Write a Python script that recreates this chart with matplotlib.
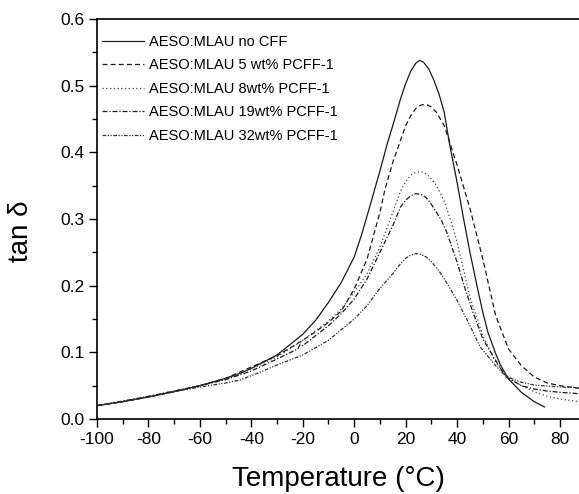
import numpy as np
import matplotlib
matplotlib.use("Agg")
import matplotlib.pyplot as plt
from matplotlib.ticker import MultipleLocator, FormatStrFormatter

plt.rcParams['font.family'] = ['Liberation Sans', 'DejaVu Sans']
plt.rcParams['axes.unicode_minus'] = False

# tan delta vs temperature
t_none = [-100, -90, -80, -70, -60, -50, -44, -40, -30, -20, -15, -10, -5, 0, 3, 6, 10,
          13, 15, 18, 20, 22, 24, 25.5, 27, 29, 31, 33, 35, 37.2, 40, 42.4, 45, 48, 50,
          52, 55, 57, 60, 65, 70, 74]
v_none = [0.020, 0.026, 0.033, 0.041, 0.050, 0.061, 0.069, 0.076, 0.096, 0.127, 0.148,
          0.175, 0.205, 0.243, 0.278, 0.318, 0.372, 0.415, 0.440, 0.480, 0.503, 0.522,
          0.534, 0.538, 0.535, 0.525, 0.508, 0.487, 0.460, 0.410, 0.355, 0.303, 0.250,
          0.195, 0.160, 0.130, 0.098, 0.080, 0.060, 0.040, 0.026, 0.018]

t_5 = [-100, -90, -80, -70, -60, -50, -40, -30, -20, -15, -10, -5, 0, 5, 10, 12, 15,
       20, 22, 24, 26, 28, 30, 32, 35, 40, 45, 50, 55, 60, 65, 70, 75, 80, 87.4]
v_5 = [0.020, 0.026, 0.033, 0.041, 0.050, 0.061, 0.078, 0.095, 0.118, 0.131, 0.145,
       0.162, 0.195, 0.240, 0.310, 0.345, 0.385, 0.440, 0.455, 0.466, 0.471, 0.472,
       0.468, 0.460, 0.440, 0.381, 0.316, 0.240, 0.155, 0.105, 0.080, 0.063, 0.054,
       0.050, 0.046]

t_8 = [-100, -90, -80, -70, -60, -50, -40, -30, -20, -10, -5, 0, 5, 10, 15, 18, 20,
       22, 24, 26, 28, 30, 32, 35, 38, 40, 45, 50, 55, 60, 65, 70, 75, 80, 87.4]
v_8 = [0.020, 0.026, 0.034, 0.042, 0.050, 0.060, 0.075, 0.093, 0.118, 0.147, 0.165,
       0.190, 0.218, 0.258, 0.310, 0.342, 0.356, 0.366, 0.370, 0.371, 0.368, 0.360,
       0.350, 0.327, 0.292, 0.265, 0.183, 0.125, 0.085, 0.062, 0.050, 0.041, 0.034,
       0.030, 0.026]

t_19 = [-100, -90, -80, -70, -60, -50, -40, -30, -22, -21, -20, -10, -5, 0, 5, 10, 15,
        18, 20, 22, 24, 26, 28, 30, 32, 34, 36, 40, 43, 46, 50, 55, 59, 65, 70, 75, 80,
        87.4]
v_19 = [0.020, 0.027, 0.034, 0.042, 0.050, 0.059, 0.072, 0.090, 0.105, 0.112, 0.110,
        0.140, 0.158, 0.180, 0.210, 0.250, 0.290, 0.318, 0.328, 0.335, 0.338, 0.337,
        0.332, 0.322, 0.310, 0.297, 0.280, 0.235, 0.197, 0.162, 0.120, 0.088, 0.063,
        0.050, 0.045, 0.042, 0.040, 0.038]

t_32 = [-100, -90, -80, -70, -60, -50, -44, -38, -30, -20, -10, 0, 5, 10, 15, 18, 20,
        22, 24, 26, 28, 30, 33, 36, 40, 45, 49, 55, 59, 65, 70, 80, 87.4]
v_32 = [0.020, 0.026, 0.033, 0.041, 0.048, 0.054, 0.059, 0.068, 0.081, 0.096, 0.118,
        0.150, 0.170, 0.196, 0.218, 0.233, 0.241, 0.246, 0.248, 0.247, 0.243, 0.236,
        0.222, 0.204, 0.178, 0.140, 0.108, 0.080, 0.064, 0.055, 0.051, 0.048, 0.047]

labels = ["AESO:MLAU no CFF", "AESO:MLAU 5 wt% PCFF-1", "AESO:MLAU 8wt% PCFF-1",
          "AESO:MLAU 19wt% PCFF-1", "AESO:MLAU 32wt% PCFF-1"]

fig = plt.figure(figsize=(5.79, 4.94), dpi=100)
ax = fig.add_axes([97/579, 1 - 419/494, 1 - 97/579, 400/494])

ax.plot(t_none, v_none, color='#1a1a1a', lw=0.9, ls='-', label=labels[0])
ax.plot(t_5, v_5, color='#1a1a1a', lw=0.9, ls=(0, (4, 2.5)), label=labels[1])
ax.plot(t_8, v_8, color='#444444', lw=0.9, ls=(0, (1, 2)), label=labels[2])
ax.plot(t_19, v_19, color='#1a1a1a', lw=0.9, ls=(0, (4, 1.5, 1, 1.5)), label=labels[3])
ax.plot(t_32, v_32, color='#333333', lw=0.9, ls=(0, (3, 1.2, 1, 1.2, 1, 1.2)), label=labels[4])

ax.set_xlim(-100, 87.4)
ax.set_ylim(0, 0.6)
ax.xaxis.set_major_locator(MultipleLocator(20))
ax.xaxis.set_minor_locator(MultipleLocator(10))
ax.yaxis.set_major_locator(MultipleLocator(0.1))
ax.yaxis.set_minor_locator(MultipleLocator(0.05))
ax.yaxis.set_major_formatter(FormatStrFormatter('%.1f'))
ax.tick_params(which='major', direction='out', length=6, width=1, labelsize=12.5, pad=3)
ax.tick_params(which='minor', direction='out', length=3.5, width=1)
ax.tick_params(right=False, top=False)
ax.spines['right'].set_visible(False)
for s in ['left', 'bottom', 'top']:
    ax.spines[s].set_linewidth(1.2)

ax.set_xlabel("Temperature (\u00b0C)", fontsize=20, labelpad=14)
ax.set_ylabel("tan \u03b4", fontsize=20)
ax.yaxis.set_label_coords(-0.13, 0.47)

ax.legend(loc='upper left', bbox_to_anchor=(0.01, 0.96), frameon=False, fontsize=10.5,
          handlelength=2.9, handletextpad=0.35, labelspacing=0.65, borderpad=0,
          borderaxespad=0)

fig.savefig("out.png", dpi=100)
